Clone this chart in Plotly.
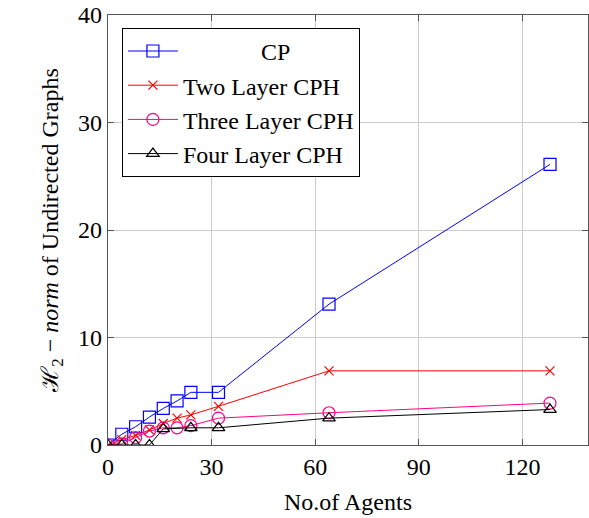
import plotly.graph_objects as go

# Data
x_cp = [0, 4, 8, 12, 16, 20, 24, 32, 64, 128]
y_cp = [0, 1.0, 1.7, 2.6, 3.4, 4.1, 4.9, 4.9, 13.1, 26.1]

x_two = [0, 4, 8, 12, 16, 20, 24, 32, 64, 128]
y_two = [0, 0.5, 0.9, 1.4, 2.0, 2.5, 2.8, 3.6, 6.9, 6.9]

x_three = [0, 4, 8, 12, 16, 20, 24, 32, 64, 128]
y_three = [0, 0.1, 0.7, 1.3, 1.6, 1.6, 1.8, 2.5, 3.0, 3.9]

x_four = [0, 4, 8, 12, 16, 24, 32, 64, 128]
y_four = [0, 0, 0, 0, 1.5, 1.6, 1.6, 2.5, 3.3]

names = ["\u00a0" * 13 + "CP",
         "Two Layer CPH", "Three Layer CPH", "Four Layer CPH"]

x_ticks = [0, 30, 60, 90, 120]
y_ticks = [0, 10, 20, 30, 40]

FONT = "Liberation Serif, Times New Roman, serif"

fig = go.Figure()
fig.add_trace(go.Scatter(x=x_cp, y=y_cp, name=names[0], mode="lines+markers",
                         line=dict(color="#0000ff", width=1),
                         marker=dict(symbol="square-open", size=12, color="#0000ff",
                                     line=dict(width=1.2))))
fig.add_trace(go.Scatter(x=x_two, y=y_two, name=names[1], mode="lines+markers",
                         line=dict(color="#ff0000", width=1),
                         marker=dict(symbol="x-thin-open", size=9, color="#ff0000",
                                     line=dict(width=1.2, color="#ff0000"))))
fig.add_trace(go.Scatter(x=x_three, y=y_three, name=names[2], mode="lines+markers",
                         line=dict(color="#ff0088", width=1),
                         marker=dict(symbol="circle-open", size=12, color="#ff0088",
                                     line=dict(width=1.2))))
fig.add_trace(go.Scatter(x=x_four, y=y_four, name=names[3], mode="lines+markers",
                         line=dict(color="#000000", width=1),
                         marker=dict(symbol="triangle-up-open", size=11, color="#000000",
                                     line=dict(width=1.2))))

axis_common = dict(
    showline=True, linecolor="#555555", linewidth=1.2, mirror="ticks",
    ticks="inside", ticklen=6, tickcolor="#555555", tickwidth=1,
    showgrid=True, gridcolor="#cccccc", gridwidth=1,
    zeroline=False, automargin=False,
    tickfont=dict(family=FONT, size=24, color="#000000"),
)

fig.update_layout(
    width=589, height=518,
    margin=dict(l=108, r=1, t=15, b=73),
    paper_bgcolor="white", plot_bgcolor="white",
    font=dict(family=FONT, size=24, color="#000000"),
    xaxis=dict(range=[0, 139], tickvals=x_ticks, ticktext=[str(v) for v in x_ticks],
               title=dict(text="No.of Agents", font=dict(family=FONT, size=24), standoff=14),
               **axis_common),
    yaxis=dict(range=[0, 40], tickvals=y_ticks, ticktext=[str(v) for v in y_ticks],
               title=dict(text="ℋ<sub>2</sub> − <i>norm</i> of Undirected Graphs",
                          font=dict(family=FONT, size=24), standoff=12),
               **axis_common),
    legend=dict(x=0.029, y=0.97, xanchor="left", yanchor="top",
                bgcolor="white", bordercolor="#000000", borderwidth=1,
                font=dict(family=FONT, size=24), itemwidth=50,
                tracegroupgap=0),
    showlegend=True,
)

fig.write_html("out.html", config={"displayModeBar": False},
               post_script="document.body.style.margin='0';document.body.style.overflow='hidden';")
